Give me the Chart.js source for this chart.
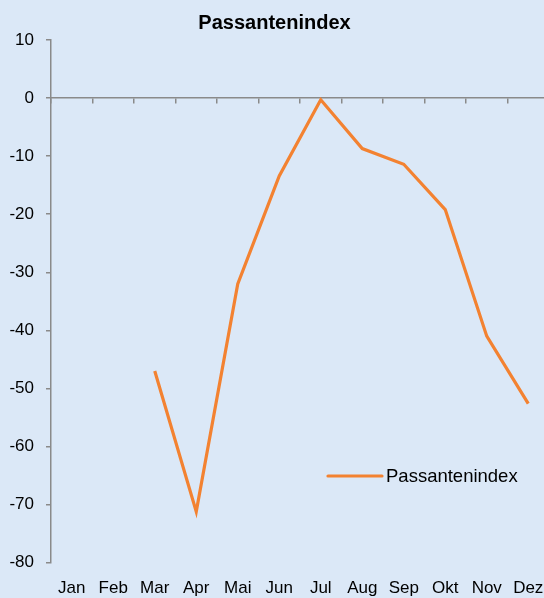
<!DOCTYPE html>
<html>
<head>
<meta charset="utf-8">
<script src="https://cdn.jsdelivr.net/npm/chart.js@4"></script>
<style>
   html, body { margin: 0; padding: 0; overflow: hidden; background: #dbe8f7; }
   #wrap { width: 549px; height: 598px; }
</style>
</head>
<body>
<div id="wrap"><canvas id="passantenChart" width="549" height="598"></canvas></div>
<script>
   const months = ["Jan", "Feb", "Mar", "Apr", "Mai", "Jun", "Jul", "Aug", "Sep", "Okt", "Nov", "Dez"];
   const passantenindex = [null, null, -47, -71.2, -32, -13.4, -0.3, -8.7, -11.4, -19.2, -41, -52.6];
   const yMin = -80;
   const yMax = 10;
   const yStep = 10;

   const lineColor = "#f38231";
   const axisColor = "#8a8a8a";
   const fontFamily = "'Liberation Sans', Arial, sans-serif";

   // legend drawn inside the plot, like the original
   const insideLegend = {
      id: "insideLegend",
      afterDraw(chart, args, opts) {
         const ctx = chart.ctx;
         const ds = chart.data.datasets[0];
         ctx.save();
         ctx.strokeStyle = ds.borderColor;
         ctx.lineWidth = ds.borderWidth;
         ctx.lineCap = "round";
         ctx.beginPath();
         ctx.moveTo(opts.x, opts.y);
         ctx.lineTo(opts.x + opts.lineLength, opts.y);
         ctx.stroke();
         ctx.fillStyle = "#000";
         ctx.font = opts.fontSize + "px " + fontFamily;
         ctx.textBaseline = "middle";
         ctx.fillText(ds.label, opts.x + opts.lineLength + 4, opts.y + 1);
         ctx.restore();
      },
   };

   const ctx = document.getElementById("passantenChart").getContext("2d");

   new Chart(ctx, {
      type: "line",
      data: {
         labels: months,
         datasets: [
            {
               label: "Passantenindex",
               data: passantenindex,
               borderColor: lineColor,
               backgroundColor: lineColor,
               borderWidth: 3.2,
               pointRadius: 0,
               tension: 0,
               fill: false,
            },
         ],
      },
      options: {
         responsive: false,
         animation: false,
         devicePixelRatio: 1,
         layout: { padding: 0 },
         plugins: {
            legend: { display: false },
            tooltip: { enabled: false },
            title: {
               display: true,
               text: "Passantenindex",
               color: "#000",
               font: { family: fontFamily, size: 20, weight: "bold" },
               padding: { top: 11, bottom: 5 },
            },
            insideLegend: { x: 328, y: 476, lineLength: 54, fontSize: 18.5 },
         },
         scales: {
            x: {
               type: "category",
               position: "bottom",
               offset: true,
               border: { display: false },
               grid: { display: false, drawTicks: false },
               ticks: {
                  color: "#000",
                  padding: 15,
                  maxRotation: 0,
                  autoSkip: false,
                  font: { family: fontFamily, size: 17 },
               },
               afterFit: (scale) => {
                  scale.height = 35.3;
                  scale.paddingLeft = 0;
                  scale.paddingRight = 0;
               },
            },
            x2: {
               type: "category",
               position: { y: 0 },
               offset: true,
               border: { display: true, color: axisColor, width: 1.5 },
               grid: {
                  display: true,
                  offset: true,
                  drawOnChartArea: false,
                  drawTicks: true,
                  tickLength: 5,
                  color: axisColor,
                  lineWidth: 1.5,
               },
               ticks: { display: false },
            },
            y: {
               min: yMin,
               max: yMax,
               border: { display: true, color: axisColor, width: 1.5 },
               grid: {
                  display: true,
                  drawOnChartArea: false,
                  drawTicks: true,
                  tickLength: 5,
                  color: axisColor,
                  lineWidth: 1.5,
               },
               ticks: {
                  stepSize: yStep,
                  color: "#000",
                  padding: 12,
                  font: { family: fontFamily, size: 17 },
               },
               afterFit: (scale) => {
                  scale.width = 51;
                  scale.paddingTop = 0;
                  scale.paddingBottom = 0;
               },
            },
         },
      },
      plugins: [insideLegend],
   });
</script>
</body>
</html>
